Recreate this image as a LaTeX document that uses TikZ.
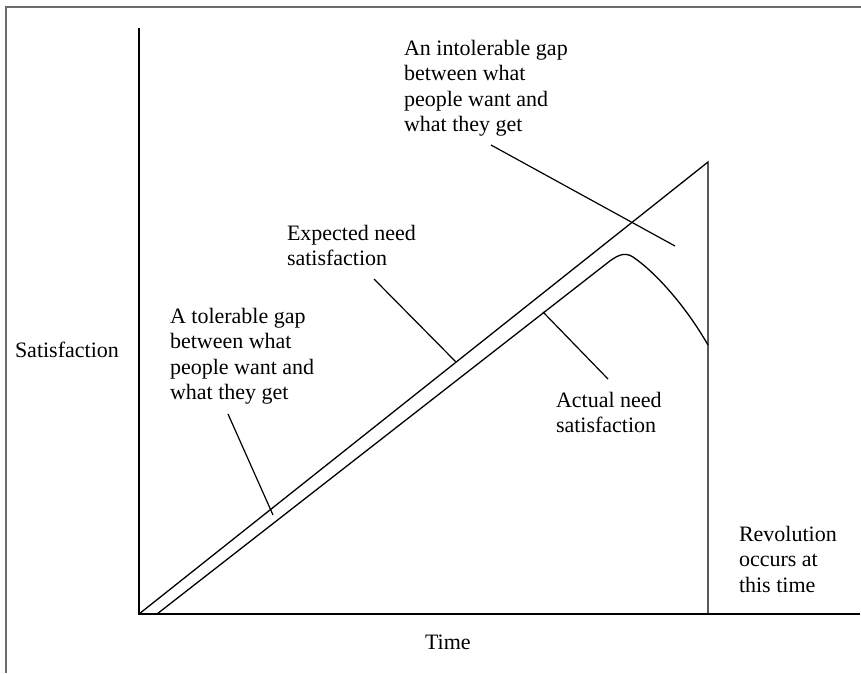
\documentclass[tikz,border=0pt]{standalone}
\usepackage{fontspec}
\setmainfont{Liberation Serif}
\begin{document}
\begin{tikzpicture}[x=1pt,y=-1pt,
  every node/.style={inner sep=0pt,outer sep=0pt,anchor=north west,align=left,
    font=\fontsize{22}{25.5}\selectfont},
  plotline/.style={line width=1.3pt,line join=miter},
  leader/.style={line width=1.2pt},
  framestyle/.style={line width=2pt,draw=black!58}]
\useasboundingbox (0,0) rectangle (861,673);

% outer frame (left and top edges)
\draw[framestyle] (6,673) -- (6,7) -- (861,7);

% key points of the plot
\coordinate (ytop) at (139,28);
\coordinate (O) at (139,614);
\coordinate (xend) at (860,614);
\coordinate (apex) at (708,162);
\coordinate (foot) at (708,614);
\coordinate (S) at (157,614);
\coordinate (E) at (708,345);

% axes
\draw[plotline] (ytop) -- (O) -- (xend);
% expected need satisfaction and the moment of revolution
\draw[plotline] (O) -- (apex) -- (foot);
% actual need satisfaction
\draw[plotline] (S) -- (606,264) .. controls (616,256) and (624,251) .. (633,257)
  .. controls (655,272) and (685,305) .. (E);

% labels
\node (ylab) at (15,342) {Satisfaction};
\node (xlab) at (425,635) {Time};
\node (intol) at (404,40) {An intolerable gap\\between what\\people want and\\what they get};
\node (expect) at (287,225) {Expected need\\satisfaction};
\node (tol) at (170,308) {A tolerable gap\\between what\\people want and\\what they get};
\node (actual) at (556,392) {Actual need\\satisfaction};
\node (rev) at (739,526) {Revolution\\occurs at\\this time};

% leader lines
\coordinate (intolA) at (491,145);
\coordinate (intolB) at (675,246);
\coordinate (expA) at (374,279);
\coordinate (expB) at (456,362);
\coordinate (tolA) at (228,414);
\coordinate (tolB) at (273,515);
\coordinate (actA) at (543,312);
\coordinate (actB) at (608,379);
\draw[leader] (intolA) -- (intolB);
\draw[leader] (expA) -- (expB);
\draw[leader] (tolA) -- (tolB);
\draw[leader] (actA) -- (actB);
\end{tikzpicture}
\end{document}
